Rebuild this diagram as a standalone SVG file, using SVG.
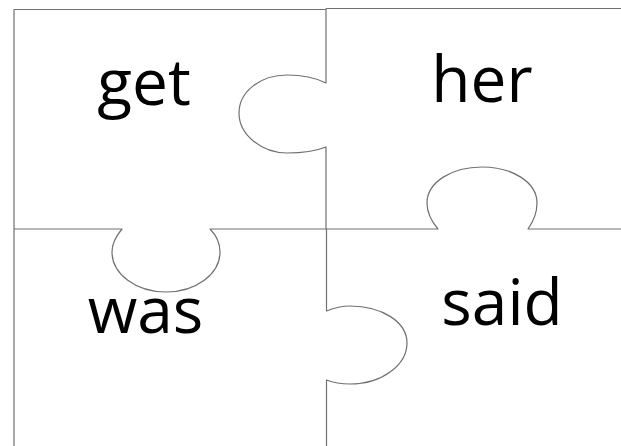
<svg xmlns="http://www.w3.org/2000/svg" width="621" height="446" viewBox="0 0 621 446">
<style>
.cut{fill:none;stroke:#707070;stroke-width:1.2;stroke-linejoin:round}
.word{font-family:"Open Sans","Liberation Sans",sans-serif;font-size:64px;fill:#000;text-anchor:middle}
</style>
<rect width="621" height="446" fill="#fff"/>
<g id="connectors">
<path class="cut" d="M14,446 V9.5 H326"/>
<path class="cut" d="M326,8.5 H621"/>
<path class="cut" d="M326,8.5 V83 C314,77 300,75 287,75 C260,75 239,92 239,113 C239,135 262,153 287,153 C302,153 316,151 326,147 V229"/>
<path class="cut" d="M14,229 H122 C116,236 112,244 112,252 C112,274 136,292 166,292 C196,292 220,274 220,252 C220,243 216,235 210,229 H438 C432,222 427,213 427,203 C427,182 452,167 482,167 C512,167 537,182 537,203 C537,213 533,222 528,229 H621"/>
<path class="cut" d="M326.5,229 V311 C334,308 342,306 350,306 C382,306 407,322 407,343 C407,365 382,384 350,384 C342,384 334,383 326.5,380 V446"/>
</g>
<g id="piece-get"><text class="word" x="144" y="105">get</text></g>
<g id="piece-her"><text class="word" x="482" y="102">her</text></g>
<g id="piece-was"><text class="word" x="145.5" y="333">was</text></g>
<g id="piece-said"><text class="word" x="502" y="325">said</text></g>
</svg>
